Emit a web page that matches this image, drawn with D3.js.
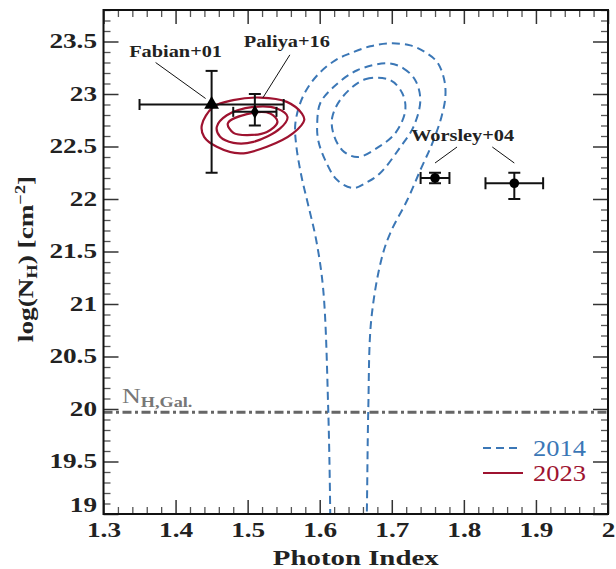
<!DOCTYPE html>
<html lang="en">
<head>
    <meta charset="UTF-8">
    <title>Photon Index vs log(NH)</title>
    <script src="https://d3js.org/d3.v7.min.js"></script>
    <style>
        body { margin: 0; background: #fff; }
        svg { font-family: "Liberation Serif", serif; }
        .annot { font-weight: bold; font-size: 16px; fill: #222; }
    </style>
</head>
<body>
<div id="chart"></div>
<script>
    // tick labels
    const xTicks = [1.3, 1.4, 1.5, 1.6, 1.7, 1.8, 1.9, 2.0];
    const yTicks = [19, 19.5, 20, 20.5, 21, 21.5, 22, 22.5, 23, 23.5];

    // literature points: photon index and log NH with error ranges
    const fabian = [{ x: 1.45, xlo: 1.35, xhi: 1.55, y: 22.9, ylo: 22.25, yhi: 23.22 }];
    const paliya = [{ x: 1.51, xlo: 1.48, xhi: 1.54, y: 22.83, ylo: 22.70, yhi: 23.0 }];
    const worsley = [
        { x: 1.76, xlo: 1.74, xhi: 1.78, y: 22.2, ylo: 22.15, yhi: 22.25 },
        { x: 1.87, xlo: 1.83, xhi: 1.91, y: 22.15, ylo: 22.0, yhi: 22.25 }
    ];

    // galactic column density
    const nhGal = 19.97;

    // 2014 contours (dashed blue)
    const c2014outer = [
        [1.6146, 18.85], [1.6146, 18.99], [1.6118, 20.0], [1.6049, 21.135], [1.5951, 21.61],
        [1.5840, 21.943], [1.5743, 22.228], [1.5674, 22.513], [1.5660, 22.703], [1.5715, 22.884],
        [1.5813, 23.036], [1.5979, 23.188], [1.6215, 23.321], [1.6424, 23.387], [1.6701, 23.454],
        [1.6979, 23.482], [1.7257, 23.463], [1.7465, 23.397], [1.7632, 23.302], [1.7729, 23.131],
        [1.7743, 22.969], [1.7688, 22.779], [1.7563, 22.532], [1.7396, 22.275], [1.7215, 21.99],
        [1.6979, 21.676], [1.6854, 21.42], [1.6715, 20.849], [1.6674, 20.0], [1.6653, 18.99],
        [1.6646, 18.85]
    ];
    const c2014mid = [
        [1.6938, 23.292], [1.7160, 23.245], [1.7326, 23.131], [1.7396, 22.941], [1.7299, 22.684],
        [1.7118, 22.494], [1.6840, 22.247], [1.6660, 22.161], [1.6465, 22.104], [1.6243, 22.18],
        [1.6076, 22.37], [1.5979, 22.56], [1.5965, 22.722], [1.6007, 22.912], [1.6188, 23.064],
        [1.6521, 23.226]
    ];
    const c2014inner = [
        [1.6313, 22.969], [1.6632, 23.14], [1.6979, 23.131], [1.7146, 23.007], [1.7188, 22.846],
        [1.7049, 22.627], [1.6813, 22.494], [1.6521, 22.399], [1.6313, 22.465], [1.6188, 22.627],
        [1.6174, 22.779]
    ];

    // 2023 contours (solid red)
    const c2023outer = [
        [1.4364, 22.703], [1.4521, 22.874], [1.4799, 22.941], [1.5174, 22.966], [1.5544, 22.925],
        [1.5753, 22.814], [1.5785, 22.751], [1.5632, 22.627], [1.5267, 22.497], [1.4896, 22.434],
        [1.4572, 22.497], [1.4396, 22.592]
    ];
    const c2023mid = [
        [1.4572, 22.687], [1.4711, 22.798], [1.5081, 22.877], [1.5406, 22.862], [1.5553, 22.782],
        [1.5451, 22.672], [1.5081, 22.544], [1.4803, 22.535], [1.4618, 22.592]
    ];
    const c2023inner = [
        [1.4725, 22.719], [1.4989, 22.808], [1.5313, 22.814], [1.5414, 22.734], [1.5267, 22.639],
        [1.4989, 22.608], [1.4803, 22.63]
    ];

    const blue = "#3b77b6";
    const red = "#9e1330";

    const W = 616, H = 569;
    const margin = { top: 10, right: 8, bottom: 55, left: 103.5 };
    const width = W - margin.left - margin.right;
    const height = H - margin.top - margin.bottom;

    const svg = d3.select("#chart").append("svg")
        .attr("width", W)
        .attr("height", H);

    const g = svg.append("g")
        .attr("transform", "translate(" + margin.left + "," + margin.top + ")");

    const x = d3.scaleLinear().domain([1.3, 2.0]).range([0, width]);
    const y = d3.scaleLinear().domain([19, 23.8]).range([height, 0]);

    // stretch text sideways, the original font is a wide bold serif
    function widen(sel, k) {
        sel.each(function() {
            const n = this.getComputedTextLength();
            d3.select(this).attr("textLength", n * k).attr("lengthAdjust", "spacingAndGlyphs");
        });
    }

    g.append("clipPath").attr("id", "clip")
        .append("rect").attr("width", width).attr("height", height);

    // minor ticks
    const xMinor = d3.range(1.3, 2.0001, 0.02).filter(v => Math.abs(v * 10 - Math.round(v * 10)) > 1e-6);
    const yMinor = d3.range(19, 23.8001, 0.1).filter(v => Math.abs(v * 2 - Math.round(v * 2)) > 1e-6);

    function styleAxis(sel, color, w) {
        sel.select(".domain").remove();
        sel.selectAll(".tick line").attr("stroke", color).attr("stroke-width", w);
    }

    g.append("g").attr("transform", "translate(0," + height + ")")
        .call(d3.axisBottom(x).tickValues(xMinor).tickSize(-7).tickFormat(""))
        .call(styleAxis, "#555", 1.3);
    g.append("g")
        .call(d3.axisTop(x).tickValues(xMinor).tickSize(-7).tickFormat(""))
        .call(styleAxis, "#555", 1.3);
    g.append("g")
        .call(d3.axisLeft(y).tickValues(yMinor).tickSize(-7).tickFormat(""))
        .call(styleAxis, "#555", 1.3);
    g.append("g").attr("transform", "translate(" + width + ",0)")
        .call(d3.axisRight(y).tickValues(yMinor).tickSize(-7).tickFormat(""))
        .call(styleAxis, "#555", 1.3);

    // major ticks
    g.append("g").attr("transform", "translate(0," + height + ")")
        .call(d3.axisBottom(x).tickValues(xTicks).tickSize(-14).tickPadding(9).tickFormat(d => String(d)))
        .call(styleAxis, "#333", 1.5);
    g.append("g")
        .call(d3.axisTop(x).tickValues(xTicks).tickSize(-14).tickFormat(""))
        .call(styleAxis, "#333", 1.5);
    const yAx = g.append("g")
        .call(d3.axisLeft(y).tickValues(yTicks).tickSize(-15).tickPadding(6.5).tickFormat(d => String(d)))
        .call(styleAxis, "#333", 1.5);
    yAx.selectAll(".tick text").filter(d => d === 19).attr("dy", "-0.15em");
    g.append("g").attr("transform", "translate(" + width + ",0)")
        .call(d3.axisRight(y).tickValues(yTicks).tickSize(-15).tickFormat(""))
        .call(styleAxis, "#333", 1.5);

    const tickText = g.selectAll(".tick text")
        .attr("font-family", "'Liberation Serif', serif")
        .attr("font-weight", "bold")
        .attr("font-size", 20)
        .attr("fill", "#222");
    widen(tickText, 1.36);

    // galactic NH line
    g.append("line")
        .attr("x1", 0).attr("x2", width)
        .attr("y1", y(nhGal)).attr("y2", y(nhGal))
        .attr("stroke", "#666").attr("stroke-width", 3)
        .attr("stroke-dasharray", "9,3.5,3,3.5");

    const nhText = g.append("text")
        .attr("x", 18.5).attr("y", y(nhGal) - 9)
        .attr("fill", "#777")
        .style("font-size", "20px");
    nhText.append("tspan").text("N");
    nhText.append("tspan").attr("dy", 3.5).style("font-size", "14px").style("font-weight", "bold").text("H,Gal.");
    widen(nhText, 1.3);

    // contours
    const closed = d3.line().x(d => x(d[0])).y(d => y(d[1])).curve(d3.curveCatmullRomClosed.alpha(0.5));
    const open = d3.line().x(d => x(d[0])).y(d => y(d[1])).curve(d3.curveCatmullRom.alpha(0.5));

    const cg = g.append("g").attr("clip-path", "url(#clip)");

    cg.append("path").datum(c2014outer).attr("d", open)
        .attr("fill", "none").attr("stroke", blue).attr("stroke-width", 2).attr("stroke-dasharray", "8,5");
    [c2014mid, c2014inner].forEach(c => {
        cg.append("path").datum(c).attr("d", closed)
            .attr("fill", "none").attr("stroke", blue).attr("stroke-width", 2).attr("stroke-dasharray", "8,5");
    });
    [c2023outer, c2023mid, c2023inner].forEach(c => {
        cg.append("path").datum(c).attr("d", closed)
            .attr("fill", "none").attr("stroke", red).attr("stroke-width", 2.2);
    });

    // error bars
    function errorBars(data, capX, capY) {
        const eg = g.append("g").attr("stroke", "#111").attr("stroke-width", 2);
        data.forEach(d => {
            eg.append("line").attr("x1", x(d.xlo)).attr("x2", x(d.xhi)).attr("y1", y(d.y)).attr("y2", y(d.y));
            eg.append("line").attr("x1", x(d.x)).attr("x2", x(d.x)).attr("y1", y(d.ylo)).attr("y2", y(d.yhi));
            [d.xlo, d.xhi].forEach(v => eg.append("line")
                .attr("x1", x(v)).attr("x2", x(v)).attr("y1", y(d.y) - capX).attr("y2", y(d.y) + capX));
            [d.ylo, d.yhi].forEach(v => eg.append("line")
                .attr("x1", x(d.x) - capY).attr("x2", x(d.x) + capY).attr("y1", y(v)).attr("y2", y(v)));
        });
    }
    errorBars(fabian, 5.5, 6);
    errorBars(paliya, 5, 6);
    errorBars(worsley, 6, 6);

    g.selectAll(".tri").data(fabian).enter().append("path")
        .attr("transform", d => "translate(" + x(d.x) + "," + y(d.y) + ")")
        .attr("d", d3.symbol(d3.symbolTriangle, 95))
        .attr("fill", "#000");
    g.selectAll(".dia").data(paliya).enter().append("path")
        .attr("transform", d => "translate(" + x(d.x) + "," + y(d.y) + ")")
        .attr("d", d3.symbol(d3.symbolDiamond, 55))
        .attr("fill", "#000");
    g.selectAll(".dot").data(worsley).enter().append("circle")
        .attr("cx", d => x(d.x)).attr("cy", d => y(d.y)).attr("r", 4.8)
        .attr("fill", "#000");

    // annotations
    const f = fabian[0], p = paliya[0];
    const annots = [];
    annots.push(g.append("text").attr("class", "annot").attr("text-anchor", "middle")
        .attr("x", x(f.x) - 36).attr("y", y(f.y) - 48).text("Fabian+01"));
    g.append("line").attr("stroke", "#111").attr("stroke-width", 1)
        .attr("x1", x(f.x) - 56).attr("y1", y(f.y) - 42).attr("x2", x(f.x) - 6).attr("y2", y(f.y) - 6);
    annots.push(g.append("text").attr("class", "annot").attr("text-anchor", "middle")
        .attr("x", x(p.x) + 32).attr("y", y(p.y) - 65).text("Paliya+16"));
    g.append("line").attr("stroke", "#111").attr("stroke-width", 1)
        .attr("x1", x(p.x) + 35).attr("y1", y(p.y) - 57).attr("x2", x(p.x) + 8).attr("y2", y(p.y) - 14);

    const w0 = worsley[0], w1 = worsley[1];
    annots.push(g.append("text").attr("class", "annot").attr("text-anchor", "middle")
        .attr("x", (x(w0.x) + x(w1.x)) / 2 - 12).attr("y", y(w0.y) - 37).text("Worsley+04"));
    g.append("line").attr("stroke", "#111").attr("stroke-width", 1)
        .attr("x1", x(w0.x) + 22).attr("y1", y(w0.y) - 31).attr("x2", x(w0.x)).attr("y2", y(w0.y) - 15);
    g.append("line").attr("stroke", "#111").attr("stroke-width", 1)
        .attr("x1", x(w1.x) - 22).attr("y1", y(w0.y) - 31).attr("x2", x(w1.x)).attr("y2", y(w0.y) - 15);
    annots.forEach(a => widen(a, 1.27));

    // legend
    const lg = g.append("g").attr("transform", "translate(" + (width - 125) + "," + (height - 66) + ")");
    lg.append("line").attr("x1", 0).attr("x2", 38).attr("y1", 0).attr("y2", 0)
        .attr("stroke", blue).attr("stroke-width", 2).attr("stroke-dasharray", "8,5");
    const l1 = lg.append("text").attr("x", 50).attr("y", 8).attr("fill", blue)
        .style("font-size", "23px").text("2014");
    lg.append("line").attr("x1", 0).attr("x2", 40).attr("y1", 25).attr("y2", 25)
        .attr("stroke", red).attr("stroke-width", 2);
    const l2 = lg.append("text").attr("x", 50).attr("y", 33).attr("fill", red)
        .style("font-size", "23px").text("2023");
    widen(l1, 1.15);
    widen(l2, 1.15);

    // frame
    g.append("rect").attr("width", width).attr("height", height)
        .attr("fill", "none").attr("stroke", "#111").attr("stroke-width", 2);

    // axis titles
    const xl = svg.append("text")
        .attr("x", margin.left + width / 2).attr("y", 565)
        .attr("text-anchor", "middle")
        .style("font-weight", "bold").style("font-size", "22px").attr("fill", "#222")
        .text("Photon Index");
    widen(xl, 1.31);

    const yl = svg.append("text")
        .attr("transform", "translate(33," + 259 + ") rotate(-90)")
        .attr("text-anchor", "middle")
        .style("font-weight", "bold").style("font-size", "21px").attr("fill", "#222");
    yl.append("tspan").text("log(N");
    yl.append("tspan").attr("dy", 4).style("font-size", "14px").text("H");
    yl.append("tspan").attr("dy", -4).text(") [cm");
    yl.append("tspan").attr("dy", -8).style("font-size", "14px").text("\u22122");
    yl.append("tspan").attr("dy", 8).text("]");
    widen(yl, 1.3);
</script>
</body>
</html>
